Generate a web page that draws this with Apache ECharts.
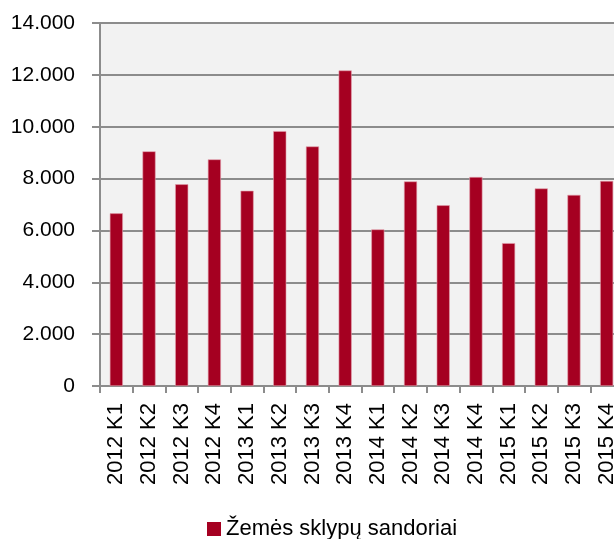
<!DOCTYPE html>
<html>
<head>
<meta charset="utf-8">
<script src="https://cdn.jsdelivr.net/npm/echarts@6/dist/echarts.min.js"></script>
<style>
html, body { margin: 0; padding: 0; background: #fff; }
#chart { width: 614px; height: 539px; }
</style>
</head>
<body>
<div id="chart"></div>
<script>
var quarters = ['2012 K1', '2012 K2', '2012 K3', '2012 K4',
                '2013 K1', '2013 K2', '2013 K3', '2013 K4',
                '2014 K1', '2014 K2', '2014 K3', '2014 K4',
                '2015 K1', '2015 K2', '2015 K3', '2015 K4'];
var sandoriai = [6660, 9050, 7780, 8740,
                 7530, 9830, 9240, 12170,
                 6040, 7890, 6970, 8060,
                 5510, 7620, 7370, 7910];
var seriesName = 'Žemės sklypų sandoriai';

var chart = echarts.init(document.getElementById('chart'));

chart.setOption({
    animation: false,
    textStyle: { fontFamily: '"Liberation Sans", Arial, sans-serif' },
    grid: {
        left: 100, right: -9, top: 23, bottom: 153,
        outerBoundsMode: 'none',
        show: true,
        backgroundColor: '#f2f2f2',
        borderWidth: 0
    },
    legend: {
        data: [seriesName],
        left: 202,
        top: 513,
        icon: 'rect',
        itemWidth: 14,
        itemHeight: 14,
        itemGap: 6,
        itemStyle: { borderWidth: 0 },
        textStyle: { fontSize: 22, color: '#000' }
    },
    xAxis: {
        type: 'category',
        data: quarters,
        axisLine: { lineStyle: { color: '#8c8c8c', width: 2 } },
        axisTick: { show: true, length: 7, lineStyle: { color: '#8c8c8c', width: 2 } },
        axisLabel: { rotate: 90, margin: 17, fontSize: 22, color: '#000', interval: 0 }
    },
    yAxis: {
        type: 'value',
        min: 0,
        max: 14000,
        interval: 2000,
        axisLine: { show: true, lineStyle: { color: '#8c8c8c', width: 2 } },
        axisTick: { show: true, length: 8, lineStyle: { color: '#8c8c8c', width: 2 } },
        splitLine: { lineStyle: { color: '#8c8c8c', width: 2 } },
        axisLabel: {
            fontSize: 21, color: '#000', margin: 25,
            formatter: function (v) {
                return v === 0 ? '0' : String(v).replace(/\B(?=(\d{3})+(?!\d))/g, '.');
            }
        }
    },
    series: [
        {
            name: seriesName,
            type: 'bar',
            data: sandoriai,
            barWidth: '40%',
            itemStyle: { color: '#a50021', borderColor: '#e3a0ad', borderWidth: 0.6 }
        }
    ]
});
</script>
</body>
</html>
